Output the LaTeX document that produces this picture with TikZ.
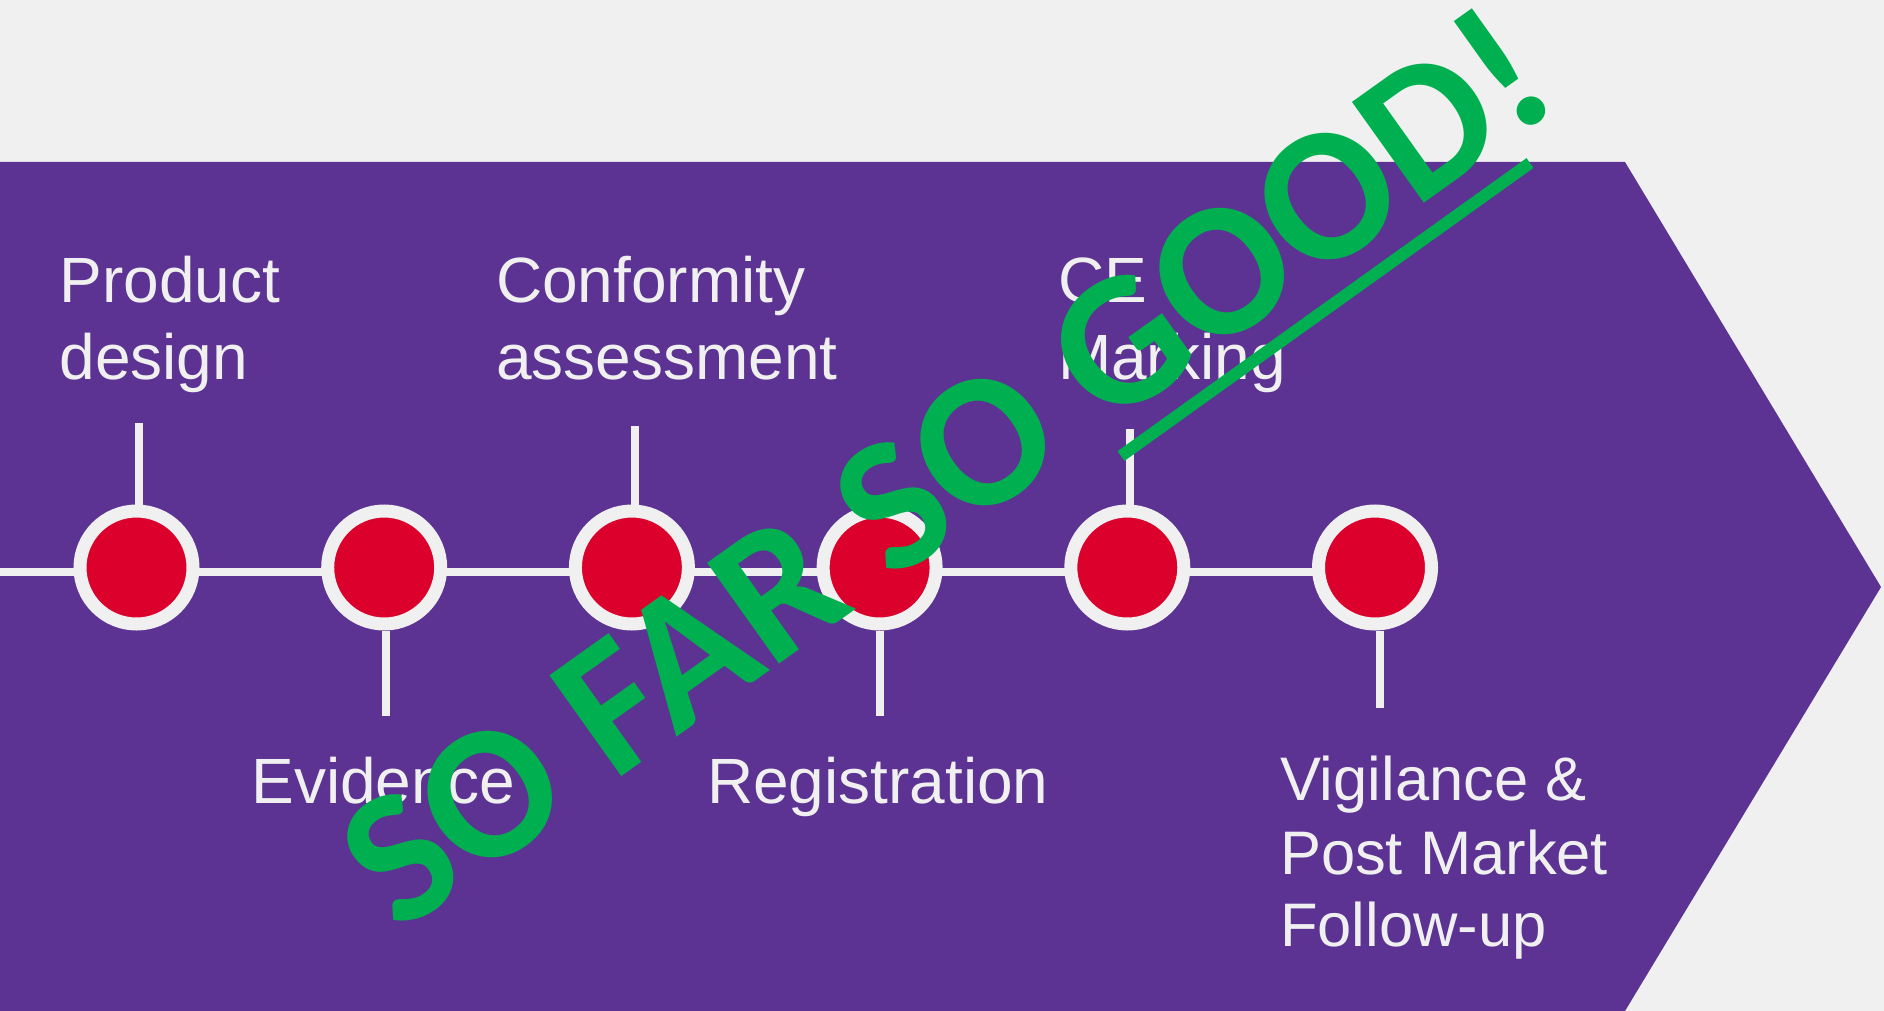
\documentclass[tikz,border=0pt]{standalone}
\usepackage{fontspec}
\setmainfont{Liberation Sans}
\newfontfamily\stampfont{Carlito}
\usetikzlibrary{backgrounds}
\definecolor{bgc}{HTML}{F0F0F0}
\definecolor{purplec}{RGB}{92,50,147}
\definecolor{redc}{RGB}{220,0,45}
\definecolor{greenc}{RGB}{0,176,80}
\begin{document}
\begin{tikzpicture}[x=1pt,y=-1pt,
  lbl/.style={anchor=base west, inner sep=0pt, outer sep=0pt, text=bgc,
    font=\fontsize{64}{76}\selectfont},
  lblsmall/.style={lbl, font=\fontsize{61.5}{73}\selectfont},
  dot/.style={circle, fill=redc, draw=bgc, line width=13pt, minimum size=113pt, inner sep=0pt},
  stemline/.style={draw=bgc, line width=8pt},
  timeline/.style={draw=bgc, line width=8pt},
  stamp/.style={anchor=base west, inner sep=0pt, outer sep=0pt, rotate=35.5, text=greenc,
    font=\stampfont\bfseries\fontsize{191}{200}\selectfont},
  uline/.style={draw=greenc, line width=12pt}]
\useasboundingbox (0,0) rectangle (1884,1011);

% circles
\node[dot] (c1) at (136.5,567.5) {};
\node[dot] (c2) at (384.2,567.5) {};
\node[dot] (c3) at (631.9,567.5) {};
\node[dot] (c4) at (879.6,567.5) {};
\node[dot] (c5) at (1127.3,567.5) {};
\node[dot] (c6) at (1375,567.5) {};

% background and timeline
\coordinate (L) at (0,572);
\begin{pgfonlayer}{background}
  \fill[bgc] (0,0) rectangle (1884,1011);
  \fill[purplec] (0,162) -- (1625,162) -- (1881,587) -- (1625,1011) -- (0,1011) -- cycle;
  \draw[timeline] (L) -- (c6.center |- L);
\end{pgfonlayer}

% stems
\coordinate (t1) at (139,423);
\coordinate (t3) at (634.5,426);
\coordinate (t5) at (1130,429);
\coordinate (b2) at (386,716);
\coordinate (b4) at (880,716);
\coordinate (b6) at (1380,708);
\draw[stemline] (t1) -- (t1 |- c1.north);
\draw[stemline] (t3) -- (t3 |- c3.north);
\draw[stemline] (t5) -- (t5 |- c5.north);
\draw[stemline] (b2 |- c2.south) -- (b2);
\draw[stemline] (b4 |- c4.south) -- (b4);
\draw[stemline] (b6 |- c6.south) -- (b6);

% labels
\node[lbl] (pd1) at (59.5,302.7) {Product};
\node[lbl] (pd2) at (59.5,379.3) {design};
\node[lbl] (ca1) at (496,302.7) {Conformity};
\node[lbl] (ca2) at (496,379.3) {assessment};
\node[lbl] (ce1) at (1058,302.7) {CE};
\node[lbl] (ce2) at (1058,379.3) {Marking};
\node[lbl] (ev) at (251.5,803.3) {Evidence};
\node[lbl] (rg) at (707,803.3) {Registration};
\node[lblsmall] (vg1) at (1280,800) {Vigilance \&};
\node[lblsmall] (vg2) at (1280,874.5) {Post Market};
\node[lblsmall] (vg3) at (1280,946.7) {Follow-up};

% stamp
\node[stamp] (sf) at (399.7,934.7) {SO FAR SO GOOD!};
\coordinate (u1) at (1121,456);
\coordinate (u2) at (1530,163);
\draw[uline] (u1) -- (u2);
\end{tikzpicture}
\end{document}
